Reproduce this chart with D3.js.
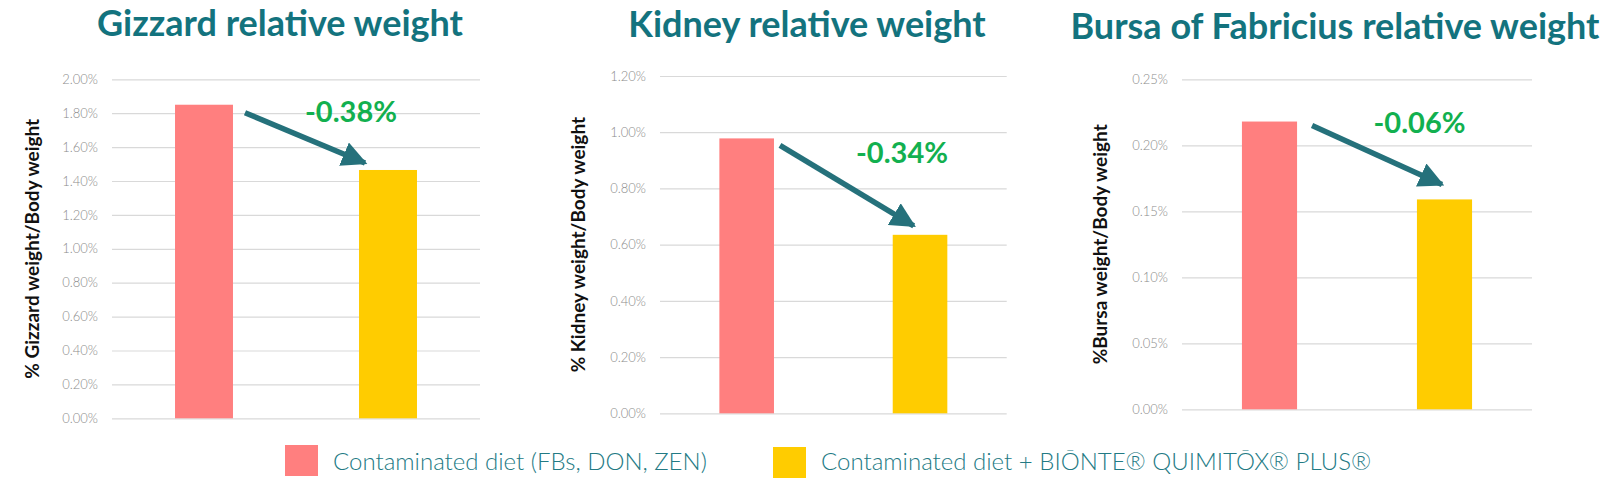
<!DOCTYPE html>
<html>
<head>
<meta charset="utf-8">
<script src="https://cdn.jsdelivr.net/npm/d3@7"></script>
<style>
  html, body { margin: 0; padding: 0; background: #fff; }
  svg { display: block; font-family: Lato, "Open Sans", sans-serif; }
</style>
</head>
<body>
<div id="chart"></div>
<script>
// data
const groups = ['Contaminated diet (FBs, DON, ZEN)', 'Contaminated diet + BIŌNTE® QUIMITŌX® PLUS®'];
const titles = ['Gizzard relative weight', 'Kidney relative weight', 'Bursa of Fabricius relative weight'];
const axisTitles = ['% Gizzard weight/Body weight', '% Kidney weight/Body weight', '%Bursa weight/Body weight'];
const gizzardValues = [1.85, 1.465];
const kidneyValues = [0.978, 0.635];
const bursaValues = [0.218, 0.159];
const diffLabels = ['-0.38%', '-0.34%', '-0.06%'];
const yMax = [2.0, 1.2, 0.25];
const yTicks = [
  [0, 0.2, 0.4, 0.6, 0.8, 1.0, 1.2, 1.4, 1.6, 1.8, 2.0],
  [0, 0.2, 0.4, 0.6, 0.8, 1.0, 1.2],
  [0, 0.05, 0.10, 0.15, 0.20, 0.25]
];
const colors = ['#ff7f7f', '#ffcc00'];

// layout of each panel (pixels)
const panels = [
  { left: 112, right: 480, top: 79.3, bottom: 418.3, titleX: 280, titleY: 36, axisX: 32,
    tail: [12, 8], tip: [6, -7], lab: [-37, 7] },
  { left: 660, right: 1006.7, top: 76, bottom: 413.3, titleX: 807, titleY: 37, axisX: 578,
    tail: [6, 7], tip: [21, -9], lab: [-18, 14] },
  { left: 1182, right: 1532, top: 79.3, bottom: 409.3, titleX: 1335, titleY: 39, axisX: 1100,
    tail: [15, 4], tip: [25, -15], lab: [-25, 1] }
];
const allValues = [gizzardValues, kidneyValues, bursaValues];

const svg = d3.select('#chart').append('svg')
  .attr('width', 1623)
  .attr('height', 486);

svg.append('defs').append('marker')
  .attr('id', 'head')
  .attr('viewBox', '0 0 10 10')
  .attr('refX', 9).attr('refY', 5)
  .attr('markerWidth', 4.6).attr('markerHeight', 4.6)
  .attr('markerUnits', 'strokeWidth')
  .attr('orient', 'auto')
  .append('path')
  .attr('d', 'M0,0 L10,5 L0,10 z')
  .attr('fill', '#25717b');

panels.forEach((p, i) => {
  const values = allValues[i];
  const g = svg.append('g');

  const x = d3.scaleBand()
    .domain(groups)
    .range([p.left, p.right])
    .paddingInner(0.685)
    .paddingOuter(0.3425);
  const y = d3.scaleLinear()
    .domain([0, yMax[i]])
    .range([p.bottom, p.top]);

  // gridlines + tick labels
  const axis = d3.axisLeft(y)
    .tickValues(yTicks[i])
    .tickSize(-(p.right - p.left))
    .tickPadding(14)
    .tickFormat(d => d.toFixed(2) + '%');
  const ag = g.append('g')
    .attr('transform', `translate(${p.left},0)`)
    .call(axis);
  ag.select('.domain').remove();
  ag.selectAll('.tick line').attr('stroke', '#d9d9d9').attr('stroke-width', 1.2);
  ag.selectAll('.tick text')
    .attr('fill', '#8c8c8c')
    .attr('font-size', 13)
    .attr('font-weight', 300)
    .attr('font-family', 'Lato, sans-serif');

  // bars
  g.selectAll('rect.bar')
    .data(values)
    .enter()
    .append('rect')
    .attr('class', 'bar')
    .attr('x', (d, j) => x(groups[j]))
    .attr('y', d => y(d))
    .attr('width', x.bandwidth())
    .attr('height', d => y(0) - y(d))
    .attr('fill', (d, j) => colors[j]);

  // arrow from first bar to second
  const x1 = x(groups[0]) + x.bandwidth() + p.tail[0];
  const y1 = y(values[0]) + p.tail[1];
  const x2 = x(groups[1]) + p.tip[0];
  const y2 = y(values[1]) + p.tip[1];
  g.append('line')
    .attr('x1', x1).attr('y1', y1)
    .attr('x2', x2).attr('y2', y2)
    .attr('stroke', '#25717b')
    .attr('stroke-width', 5.5)
    .attr('marker-end', 'url(#head)');

  // difference label
  g.append('text')
    .attr('x', x(groups[1]) + x.bandwidth() / 2 + p.lab[0])
    .attr('y', y(values[0]) + p.lab[1])
    .attr('dy', '0.36em')
    .attr('text-anchor', 'middle')
    .attr('font-size', 29)
    .attr('font-weight', 700)
    .attr('fill', '#12b04f')
    .text(diffLabels[i]);

  // panel title
  g.append('text')
    .attr('x', p.titleX)
    .attr('y', p.titleY)
    .attr('text-anchor', 'middle')
    .attr('font-size', 36)
    .attr('font-weight', 700)
    .attr('fill', '#13737e')
    .text(titles[i]);

  // y axis title
  g.append('text')
    .attr('transform', `translate(${p.axisX},${(p.top + p.bottom) / 2}) rotate(-90)`)
    .attr('text-anchor', 'middle')
    .attr('dy', '0.35em')
    .attr('font-size', 19)
    .attr('font-weight', 700)
    .attr('fill', '#111')
    .text(axisTitles[i]);
});

// legend
const legendX = [285, 773];
const legend = svg.append('g');
groups.forEach((name, j) => {
  legend.append('rect')
    .attr('x', legendX[j])
    .attr('y', 445 + j * 2)
    .attr('width', 33)
    .attr('height', 31)
    .attr('fill', colors[j]);
  legend.append('text')
    .attr('x', legendX[j] + 48)
    .attr('y', 470)
    .attr('font-size', 24)
    .attr('font-weight', 300)
    .attr('fill', '#237a84')
    .text(name);
});
</script>
</body>
</html>
